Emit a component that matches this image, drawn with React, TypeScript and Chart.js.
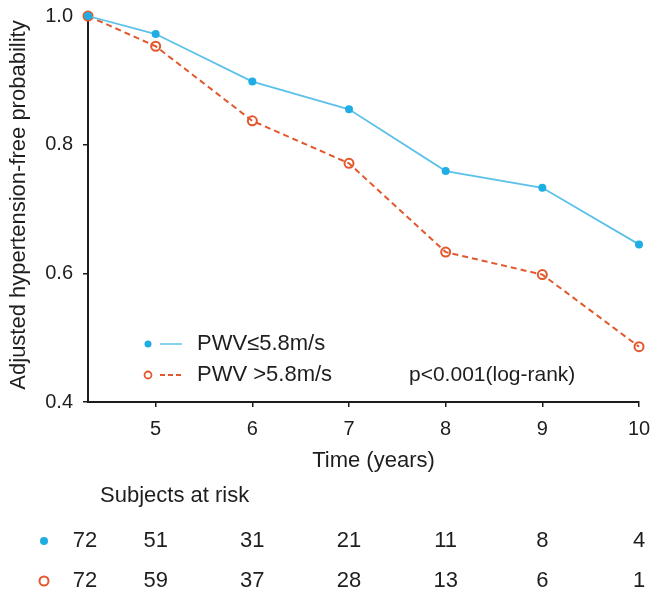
import React, { useEffect, useRef } from "react";
import { Chart, registerables } from "chart.js";

Chart.register(...registerables);

// ---- data ----
const times = [4.3, 5, 6, 7, 8, 9, 10];
const lowPWV = [1.0, 0.972, 0.898, 0.855, 0.759, 0.733, 0.645];
const highPWV = [1.0, 0.953, 0.837, 0.771, 0.633, 0.598, 0.486];
const xTickValues = [5, 6, 7, 8, 9, 10];
const yTickValues = [0.4, 0.6, 0.8, 1.0];
const riskTimes = [4.27, 5, 6, 7, 8, 9, 10];
const riskLow = [72, 51, 31, 21, 11, 8, 4];
const riskHigh = [72, 59, 37, 28, 13, 6, 1];
const seriesLabels = ["PWV\u22645.8m/s", "PWV >5.8m/s"];
const pValueText = "p<0.001(log-rank)";
const xTitle = "Time (years)";
const yTitle = "Adjusted hypertension-free probability";
const riskTitle = "Subjects at risk";

const BLUE_LINE = "#5CC1E8";
const BLUE_PT = "#1FAEE3";
const ORANGE = "#E2582C";
const AXIS = "#1c1c1c";
const TEXT = "#1e1e1e";
const FONT = "'Liberation Sans', Arial, Helvetica, sans-serif";

const overlayPlugin = {
  id: "overlay",
  afterDraw(chart: any) {
    const ctx = chart.ctx as CanvasRenderingContext2D;
    const xs = chart.scales.x;
    const area = chart.chartArea;
    ctx.save();
    ctx.fillStyle = TEXT;
    ctx.font = `22px ${FONT}`;
    ctx.textBaseline = "middle";

    // y title
    ctx.save();
    ctx.translate(19, (area.top + area.bottom) / 2 - 4);
    ctx.rotate(-Math.PI / 2);
    ctx.textAlign = "center";
    ctx.fillText(yTitle, 0, 0);
    ctx.restore();

    // x title
    ctx.textAlign = "center";
    ctx.fillText(xTitle, (area.left + area.right) / 2 + 10, 461);

    // legend
    const legY = [344, 375];
    ctx.fillStyle = BLUE_PT;
    ctx.beginPath();
    ctx.arc(148, legY[0], 3.5, 0, Math.PI * 2);
    ctx.fill();
    ctx.strokeStyle = BLUE_LINE;
    ctx.lineWidth = 1.5;
    ctx.beginPath();
    ctx.moveTo(160, legY[0]);
    ctx.lineTo(182, legY[0]);
    ctx.stroke();
    ctx.strokeStyle = ORANGE;
    ctx.lineWidth = 1.8;
    ctx.beginPath();
    ctx.arc(148, legY[1], 3.5, 0, Math.PI * 2);
    ctx.stroke();
    ctx.setLineDash([5, 3]);
    ctx.beginPath();
    ctx.moveTo(160, legY[1]);
    ctx.lineTo(183, legY[1]);
    ctx.stroke();
    ctx.setLineDash([]);

    ctx.fillStyle = TEXT;
    ctx.textAlign = "left";
    ctx.fillText(seriesLabels[0], 197, legY[0]);
    ctx.fillText(seriesLabels[1], 197, legY[1]);
    ctx.font = `21px ${FONT}`;
    ctx.fillText(pValueText, 409, legY[1]);
    ctx.font = `22px ${FONT}`;

    // risk table
    ctx.fillText(riskTitle, 100, 496);
    const rowY = [541, 581];
    ctx.fillStyle = BLUE_PT;
    ctx.beginPath();
    ctx.arc(44, rowY[0], 4, 0, Math.PI * 2);
    ctx.fill();
    ctx.strokeStyle = ORANGE;
    ctx.lineWidth = 2;
    ctx.beginPath();
    ctx.arc(44, rowY[1], 4.5, 0, Math.PI * 2);
    ctx.stroke();

    ctx.fillStyle = TEXT;
    ctx.textAlign = "center";
    riskTimes.forEach((t, i) => {
      const px = xs.getPixelForValue(t);
      ctx.fillText(String(riskLow[i]), px, rowY[0]);
      ctx.fillText(String(riskHigh[i]), px, rowY[1]);
    });
    ctx.restore();
  },
};

export default function App() {
  const ref = useRef<HTMLCanvasElement | null>(null);

  useEffect(() => {
    if (!ref.current) return;
    const chart = new Chart(ref.current, {
      type: "line",
      data: {
        datasets: [
          {
            label: seriesLabels[0],
            data: times.map((t, i) => ({ x: t, y: lowPWV[i] })),
            borderColor: BLUE_LINE,
            borderWidth: 1.8,
            pointRadius: 4,
            pointBackgroundColor: BLUE_PT,
            pointBorderColor: BLUE_PT,
            pointBorderWidth: 0,
            tension: 0,
            clip: false as any,
          },
          {
            label: seriesLabels[1],
            data: times.map((t, i) => ({ x: t, y: highPWV[i] })),
            borderColor: ORANGE,
            borderWidth: 2,
            borderDash: [6, 4],
            pointRadius: 4.5,
            pointBackgroundColor: "rgba(255,255,255,0)",
            pointBorderColor: ORANGE,
            pointBorderWidth: 2,
            tension: 0,
            clip: false as any,
          },
        ],
      },
      options: {
        responsive: false,
        animation: false,
        devicePixelRatio: 1,
        layout: { padding: { left: 0, right: 24, top: 16, bottom: 0 } },
        plugins: {
          legend: { display: false },
          tooltip: { enabled: false },
        },
        scales: {
          x: {
            type: "linear",
            min: 4.3,
            max: 10,
            afterBuildTicks: (scale: any) => {
              scale.ticks = xTickValues.map((v) => ({ value: v }));
            },
            afterFit: (scale: any) => {
              scale.height = 199;
              scale.paddingLeft = 0;
              scale.paddingRight = 0;
              scale.paddingTop = 0;
              scale.paddingBottom = 0;
            },
            grid: {
              display: true,
              drawOnChartArea: false,
              drawTicks: true,
              tickLength: 5,
              color: AXIS,
              lineWidth: 1.5,
            },
            border: { display: true, color: AXIS, width: 2 },
            ticks: {
              color: TEXT,
              font: { family: FONT, size: 20 },
              padding: 10,
              maxRotation: 0,
              autoSkip: false,
              callback: (v: any) => String(v),
            },
          },
          y: {
            type: "linear",
            min: 0.4,
            max: 1.0,
            afterBuildTicks: (scale: any) => {
              scale.ticks = yTickValues.map((v) => ({ value: v }));
            },
            afterFit: (scale: any) => {
              scale.width = 88;
              scale.paddingLeft = 0;
              scale.paddingRight = 0;
              scale.paddingTop = 0;
              scale.paddingBottom = 0;
            },
            grid: {
              display: true,
              drawOnChartArea: false,
              drawTicks: true,
              tickLength: 5,
              color: AXIS,
              lineWidth: 1.5,
            },
            border: { display: true, color: AXIS, width: 2 },
            ticks: {
              color: TEXT,
              font: { family: FONT, size: 20 },
              padding: 10,
              autoSkip: false,
              callback: (v: any) => Number(v).toFixed(1),
            },
          },
        },
      },
      plugins: [overlayPlugin],
    });
    return () => chart.destroy();
  }, []);

  return (
    <div style={{ position: "absolute", left: 0, top: 0, width: 663, height: 601, background: "#fff" }}>
      <canvas ref={ref} width={663} height={601} style={{ display: "block" }} />
    </div>
  );
}
